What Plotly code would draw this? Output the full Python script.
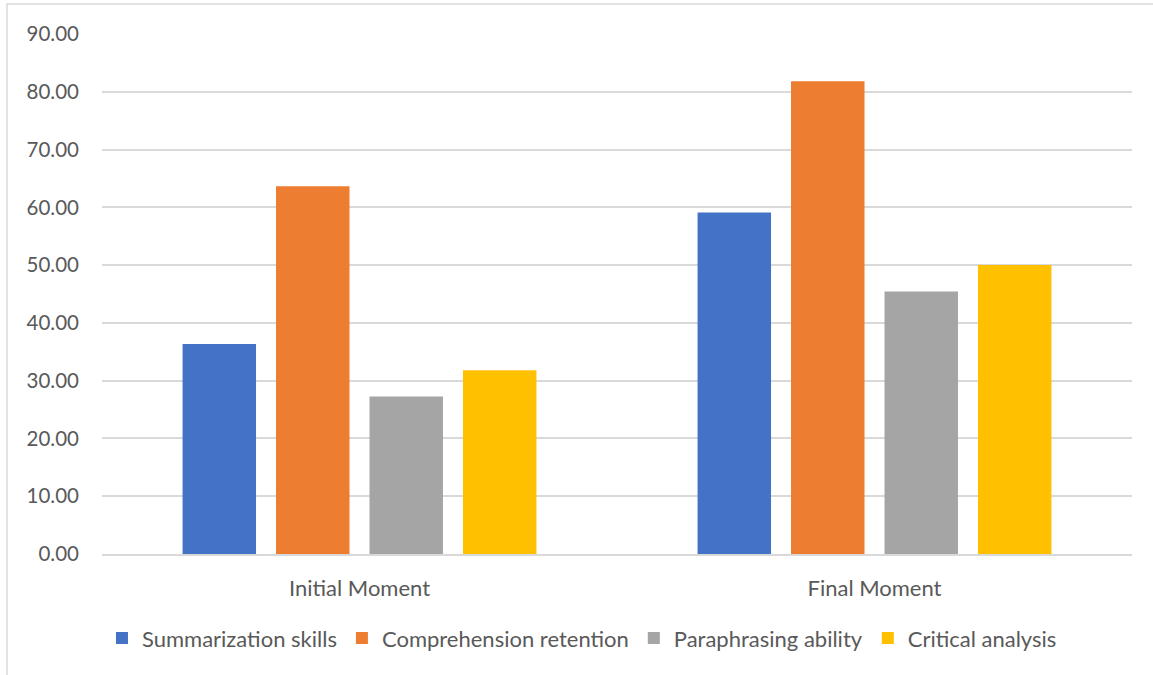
import plotly.graph_objects as go

categories = ["Initial Moment", "Final Moment"]
series_names = ["Summarization skills", "Comprehension retention", "Paraphrasing ability", "Critical analysis"]
summarization = [36.36, 59.09]
comprehension = [63.64, 81.82]
paraphrasing = [27.27, 45.45]
critical = [31.82, 50.00]
colors = ["#4472C4", "#ED7D31", "#A5A5A5", "#FFC000"]
y_ticks = [0, 10, 20, 30, 40, 50, 60, 70, 80, 90]

FONT = "Lato"
TXT = "#595959"

fig = go.Figure()
for name, vals, col in zip(series_names, [summarization, comprehension, paraphrasing, critical], colors):
    fig.add_trace(go.Bar(x=categories, y=vals, name=name, marker=dict(color=col, line=dict(width=0))))

fig.update_layout(
    width=1153, height=675,
    margin=dict(l=102, r=21, t=34, b=121),
    paper_bgcolor="white", plot_bgcolor="white",
    barmode="group", bargap=0.274, bargroupgap=0.214,
    font=dict(family=FONT, size=22, color=TXT),
    showlegend=True,
    legend=dict(orientation="h", x=0.466, xanchor="center", y=-0.162, yanchor="middle",
                font=dict(family=FONT, size=22, color=TXT), itemwidth=30,
                traceorder="normal"),
    xaxis=dict(showgrid=False, showline=True, linecolor="#d9d9d9", linewidth=1.5,
               ticks="", ticklabelstandoff=14, tickfont=dict(family=FONT, size=22, color=TXT)),
    yaxis=dict(range=[0, 90], tickvals=y_ticks, tickformat=".2f", showgrid=True,
               gridcolor="#d9d9d9", gridwidth=1.5, zeroline=False, showline=False,
               ticks="", ticklabelstandoff=22, tickfont=dict(family=FONT, size=20.5, color=TXT)),
    shapes=[dict(type="rect", xref="paper", yref="paper", x0=-0.0922, x1=1.1, y0=-0.3, y1=1.0577,
                 line=dict(color="#d9d9d9", width=1.5), fillcolor="rgba(0,0,0,0)", layer="below")],
)

fig.write_html("out.html")
